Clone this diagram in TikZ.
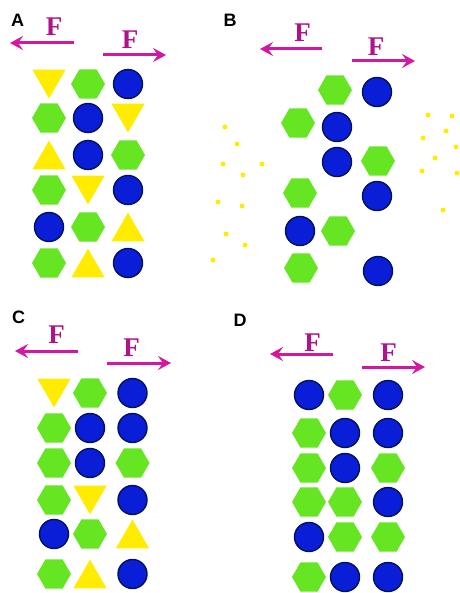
\documentclass[tikz,border=0pt]{standalone}
\usepackage{fontspec}
\setmainfont{Liberation Serif}
\newfontfamily\labfont{Liberation Sans}
\usetikzlibrary{shapes.geometric,arrows.meta}
\definecolor{cblue}{RGB}{10,30,215}
\definecolor{cnavy}{RGB}{0,18,95}
\definecolor{cgreen}{RGB}{102,230,34}
\definecolor{cyellow}{RGB}{255,236,0}
\definecolor{cmag}{RGB}{212,22,160}
\definecolor{cfcol}{RGB}{176,18,140}
\begin{document}
\begin{tikzpicture}[x=1pt,y=-1pt,
  circ/.style={circle,fill=cblue,draw=cnavy,line width=1.4pt,minimum size=29pt,inner sep=0pt},
  hexa/.style={regular polygon,regular polygon sides=6,fill=cgreen,minimum size=34pt,inner sep=0pt},
  tup/.style={regular polygon,regular polygon sides=3,fill=cyellow,minimum size=38.5pt,inner sep=0pt,yshift=-4.8pt},
  tdn/.style={regular polygon,regular polygon sides=3,shape border rotate=180,fill=cyellow,minimum size=38.5pt,inner sep=0pt,yshift=4.8pt},
  ydot/.style={circle,fill=cyellow,minimum size=5pt,inner sep=0pt},
  farrow/.style={draw=cmag,line width=3pt,-{Stealth[length=13pt,width=14pt,inset=5pt]}},
  flab/.style={text=cfcol,font=\fontsize{27}{27}\selectfont\bfseries,inner sep=0pt},
  plab/.style={font=\labfont\fontsize{18}{18}\selectfont\bfseries,inner sep=0pt}
]
\useasboundingbox (0,0) rectangle (459,593);

% panel labels
\node[plab] (labA) at (17.5,20) {A};
\node[plab] (labB) at (230,20) {B};
\node[plab] (labC) at (18.5,317.5) {C};
\node[plab] (labD) at (240,320.5) {D};

% force labels
\node[flab] (fA1) at (54,27) {F};
\node[flab] (fA2) at (130,40) {F};
\node[flab] (fB1) at (302.5,33) {F};
\node[flab] (fB2) at (376,47) {F};
\node[flab] (fC1) at (56.5,335) {F};
\node[flab] (fC2) at (131.5,348) {F};
\node[flab] (fD1) at (312.5,343) {F};
\node[flab] (fD2) at (388.5,353) {F};

% arrows
\coordinate (aA1s) at (74,43);  \coordinate (aA1e) at (10,43);
\coordinate (aA2s) at (103,55); \coordinate (aA2e) at (166,55);
\coordinate (aB1s) at (322,49); \coordinate (aB1e) at (260,49);
\coordinate (aB2s) at (352,61); \coordinate (aB2e) at (415,61);
\coordinate (aC1s) at (78,351); \coordinate (aC1e) at (15,351);
\coordinate (aC2s) at (107,363);\coordinate (aC2e) at (171,363);
\coordinate (aD1s) at (333,354);\coordinate (aD1e) at (270,354);
\coordinate (aD2s) at (362,367);\coordinate (aD2e) at (425,367);
\foreach \p in {A1,A2,B1,B2,C1,C2,D1,D2}
  \draw[farrow] (a\p s) -- (a\p e);

% panel A
\foreach \yy/\sa/\sb/\sc [count=\r] in {84/tdn/hexa/circ,118/hexa/circ/tdn,155/tup/circ/hexa,190/hexa/tdn/circ,227/circ/hexa/tup,263/hexa/tup/circ}{
  \node[\sa] (A\r a) at (49,\yy) {};
  \node[\sb] (A\r b) at (88,\yy) {};
  \node[\sc] (A\r c) at (128,\yy) {};
}

% panel C
\foreach \yy/\sa/\sb/\sc [count=\r] in {393/tdn/hexa/circ,428/hexa/circ/circ,463/hexa/circ/hexa,500/hexa/tdn/circ,534/circ/hexa/tup,574/hexa/tup/circ}{
  \node[\sa] (C\r a) at (54,\yy) {};
  \node[\sb] (C\r b) at (90,\yy) {};
  \node[\sc] (C\r c) at (132.5,\yy) {};
}

% panel D
\foreach \yy/\sa/\sb/\sc [count=\r] in {395/circ/hexa/circ,433/hexa/circ/circ,468/hexa/circ/hexa,502/hexa/hexa/circ,537/circ/hexa/hexa,577/hexa/circ/circ}{
  \node[\sa] (D\r a) at (309,\yy) {};
  \node[\sb] (D\r b) at (345,\yy) {};
  \node[\sc] (D\r c) at (388,\yy) {};
}

% panel B
\foreach \s/\xx/\yy [count=\i] in {hexa/335/90,circ/377/92,hexa/298/123,circ/337/127,circ/337/162,hexa/378/161,hexa/300/193,circ/377/196,circ/300/231,hexa/338/231,hexa/301/268,circ/378/271}
  \node[\s] (B\i) at (\xx,\yy) {};

% dispersed dots
\foreach \xx/\yy [count=\i] in {225/127,237/144,223/164,262/164,243/175,218/202,242/206,226/234,245/245,213/260}
  \node[ydot] (dl\i) at (\xx,\yy) {};
\foreach \xx/\yy [count=\i] in {428/115,452/116,446/131,423/138,456/147,435/158,422/171,457/173,443/210}
  \node[ydot] (dr\i) at (\xx,\yy) {};
\end{tikzpicture}
\end{document}
